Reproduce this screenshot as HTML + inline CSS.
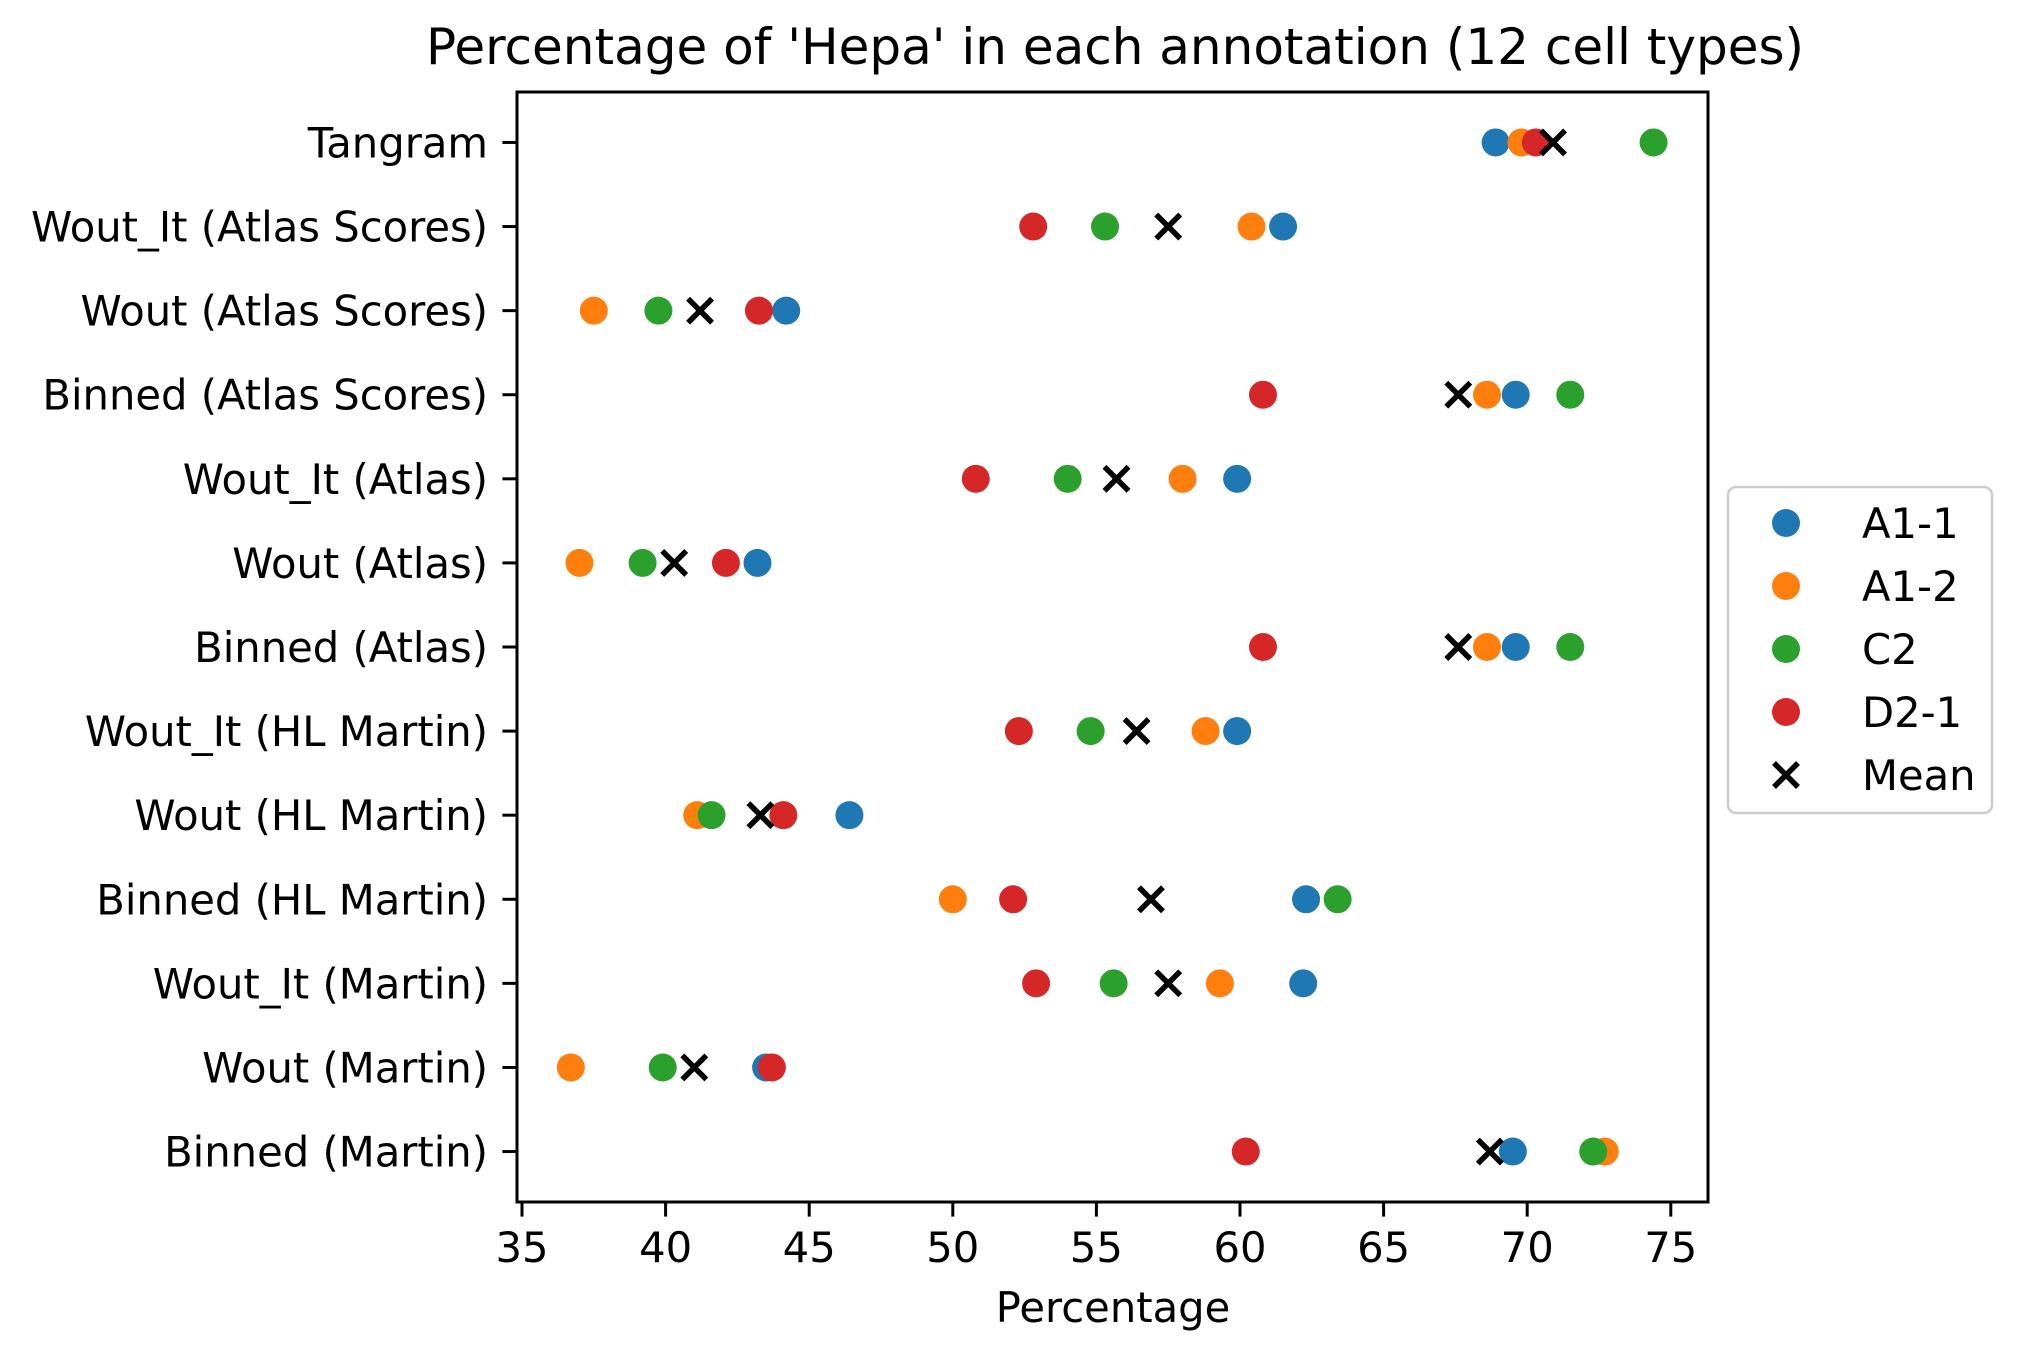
<!DOCTYPE html>
<html><head><meta charset="utf-8"><style>
html,body{margin:0;padding:0;background:#fff;}
svg{display:block;font-family:"DejaVu Sans","Liberation Sans",sans-serif;}
</style></head><body>
<svg id="chart" width="2020" height="1361" viewBox="0 0 2020 1361" xmlns="http://www.w3.org/2000/svg">
<rect width="2020" height="1361" fill="#fff"/>
<text x="1115" y="64" font-size="50" text-anchor="middle">Percentage of 'Hepa' in each annotation (12 cell types)</text>
<g id="plot"></g>
<text x="1113" y="1322" font-size="41.7" text-anchor="middle">Percentage</text>
</svg>
<script>
const categories = ["Tangram","Wout_It (Atlas Scores)","Wout (Atlas Scores)","Binned (Atlas Scores)","Wout_It (Atlas)","Wout (Atlas)","Binned (Atlas)","Wout_It (HL Martin)","Wout (HL Martin)","Binned (HL Martin)","Wout_It (Martin)","Wout (Martin)","Binned (Martin)"];
const seriesNames = ["A1-1","A1-2","C2","D2-1"];
const seriesColors = ["#1f77b4","#ff7f0e","#2ca02c","#d62728"];
const valsA11 = [68.9,61.5,44.2,69.6,59.9,43.2,69.6,59.9,46.4,62.3,62.2,43.5,69.5];
const valsA12 = [69.8,60.4,37.5,68.6,58.0,37.0,68.6,58.8,41.1,50.0,59.3,36.7,72.7];
const valsC2  = [74.4,55.3,39.75,71.5,54.0,39.2,71.5,54.8,41.6,63.4,55.6,39.9,72.3];
const valsD21 = [70.3,52.8,43.25,60.8,50.8,42.1,60.8,52.3,44.1,52.1,52.9,43.7,60.2];
const meanVals = [70.9,57.5,41.2,67.6,55.7,40.3,67.6,56.4,43.3,56.9,57.5,41.0,68.7];
const xTicks = [35,40,45,50,55,60,65,70,75];

const NS="http://www.w3.org/2000/svg";
const L=517,R=1708,T=92,B=1202;
const xs=v=>522+(v-35)*28.72;
const rowH=(B-T)/13.2;
const ys=i=>T+(0.6+i)*rowH;
const g=document.getElementById('plot');
function el(tag,attrs,parent){const e=document.createElementNS(NS,tag);for(const k in attrs)e.setAttribute(k,attrs[k]);(parent||g).appendChild(e);return e;}

const frame=el('rect',{x:L,y:T,width:R-L,height:B-T,fill:'none',stroke:'#000','stroke-width':3});



xTicks.forEach(t=>{
  const x=xs(t);
  const tk=el('line',{x1:x,x2:x,y1:B,y2:B+14.6,stroke:'#000','stroke-width':3});
  
  
  const tl=el('text',{x:x,y:B+60,'font-size':41.7,'text-anchor':'middle'});
  tl.textContent=t;
  
  
});
categories.forEach((c,i)=>{
  const y=ys(i);
  const tk=el('line',{x1:L-14.6,x2:L,y1:y,y2:y,stroke:'#000','stroke-width':3});
  
  
  const tl=el('text',{x:L-29,y:y+15,'font-size':41.7,'text-anchor':'end'});
  tl.textContent=c;
  
  
});
const allSeries=[valsA11,valsA12,valsC2,valsD21];
allSeries.forEach((arr,si)=>{
  arr.forEach((v,i)=>{
    const d=el('circle',{cx:xs(v),cy:ys(i),r:14,fill:seriesColors[si]});
    
    
  });
});
function drawX(cx,cy,parent){
  const s=12;
  return el('path',{d:`M${cx-s},${cy-s}L${cx+s},${cy+s}M${cx-s},${cy+s}L${cx+s},${cy-s}`,stroke:'#000','stroke-width':5.5,fill:'none'},parent);
}
meanVals.forEach((v,i)=>{
  const p=drawX(xs(v),ys(i));
  
  
});

const lg=el('g',{});


const lb=el('rect',{x:1728,y:487,width:264,height:326,rx:8,fill:'#fff',stroke:'#ccc','stroke-width':2.5},lg);


const names=seriesNames.concat(['Mean']);
names.forEach((n,k)=>{
  const y=523+k*63;
  let m;
  if(k<4){m=el('circle',{cx:1786,cy:y,r:14,fill:seriesColors[k]},lg);}
  else{m=drawX(1786,y,lg);}
  
  
  const t=el('text',{x:1862,y:y+15,'font-size':41.7},lg);
  t.textContent=n;
  
  
});
</script>
</body></html>
